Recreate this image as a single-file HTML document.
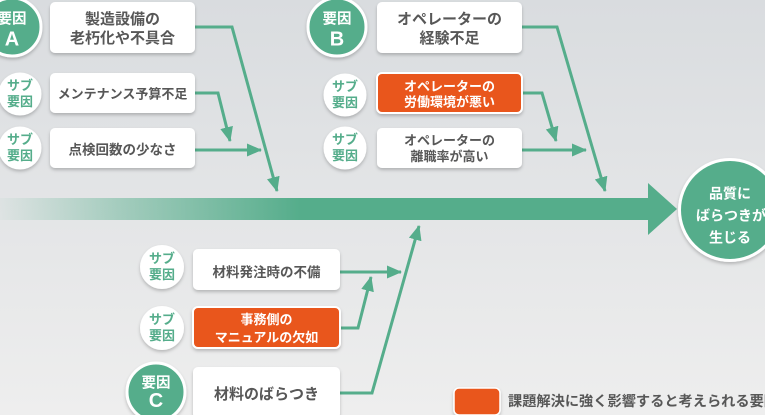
<!DOCTYPE html>
<html><head><meta charset="utf-8">
<style>
html,body{margin:0;padding:0;}
body{width:765px;height:415px;overflow:hidden;background:linear-gradient(#d9dcdf,#eeeeee);}
svg{display:block;font-family:"Liberation Sans","Noto Sans CJK JP",sans-serif;font-weight:bold;}
.g{fill:#575757;}
.w{fill:#fff;}
.gt{fill:#55ad8b;}
</style></head>
<body>
<svg width="765" height="415" viewBox="0 0 765 415" xmlns="http://www.w3.org/2000/svg">
<defs>
  <filter id="sh" x="-20%" y="-20%" width="140%" height="150%">
    <feDropShadow dx="0" dy="2" stdDeviation="1.5" flood-color="#000" flood-opacity="0.22"/>
  </filter>
  <linearGradient id="bar" gradientUnits="userSpaceOnUse" x1="0" y1="0" x2="300" y2="0">
    <stop offset="0" stop-color="#55ad8b" stop-opacity="0.04"/>
    <stop offset="0.4" stop-color="#55ad8b" stop-opacity="0.45"/>
    <stop offset="1" stop-color="#55ad8b" stop-opacity="1"/>
  </linearGradient>
  <marker id="ah" markerUnits="userSpaceOnUse" markerWidth="15" markerHeight="13" refX="14" refY="6.5" orient="auto" viewBox="0 0 15 13">
    <path d="M0,0 L15,6.5 L0,13 z" fill="#55ad8b"/>
  </marker>
</defs>

<!-- main arrow -->
<rect x="0" y="198" width="650" height="22" fill="url(#bar)"/>
<polygon points="648,183 677,209 648,235" fill="#55ad8b"/>

<!-- connectors -->
<g fill="none" stroke="#55ad8b" stroke-width="3" marker-end="url(#ah)">
  <polyline points="195,27 232,27 277,191"/>
  <polyline points="195,93 218,93 230,141"/>
  <polyline points="195,150 261,150"/>
  <polyline points="522,27 557,27 605,191"/>
  <polyline points="522,93 542,93 556,141"/>
  <polyline points="522,150 586,150"/>
  <polyline points="340,272 401,272"/>
  <polyline points="340,328 358,328 371,277"/>
  <polyline points="340,393 372,393 419,226"/>
</g>

<!-- Group A -->
<circle cx="12" cy="27" r="29" fill="#55ad8b" stroke="#fff" stroke-width="3" filter="url(#sh)"/>
<text x="12" y="23.5" text-anchor="middle" font-size="14.5" class="w">要因</text>
<text x="12" y="45.5" text-anchor="middle" font-size="20" class="w">A</text>
<rect x="50" y="2" width="145" height="51" rx="5" fill="#fff" filter="url(#sh)"/>
<text x="122.5" y="24" text-anchor="middle" font-size="15" class="g">製造設備の</text>
<text x="122.5" y="43" text-anchor="middle" font-size="15" class="g">老朽化や不具合</text>

<circle cx="20" cy="94" r="21.5" fill="#fff" filter="url(#sh)"/>
<text x="20" y="90" text-anchor="middle" font-size="13" class="gt">サブ</text>
<text x="20" y="106" text-anchor="middle" font-size="13" class="gt">要因</text>
<rect x="50" y="73" width="145" height="40" rx="5" fill="#fff" filter="url(#sh)"/>
<text x="122.5" y="98.5" text-anchor="middle" font-size="13" class="g">メンテナンス予算不足</text>

<circle cx="20" cy="148" r="21.5" fill="#fff" filter="url(#sh)"/>
<text x="20" y="144" text-anchor="middle" font-size="13" class="gt">サブ</text>
<text x="20" y="160" text-anchor="middle" font-size="13" class="gt">要因</text>
<rect x="50" y="128" width="145" height="40" rx="5" fill="#fff" filter="url(#sh)"/>
<text x="122.5" y="154.5" text-anchor="middle" font-size="13.5" class="g">点検回数の少なさ</text>

<!-- Group B -->
<circle cx="337" cy="27" r="29" fill="#55ad8b" stroke="#fff" stroke-width="3" filter="url(#sh)"/>
<text x="337" y="23.5" text-anchor="middle" font-size="14.5" class="w">要因</text>
<text x="337" y="45.5" text-anchor="middle" font-size="20" class="w">B</text>
<rect x="377" y="2" width="145" height="51" rx="5" fill="#fff" filter="url(#sh)"/>
<text x="449.5" y="24" text-anchor="middle" font-size="15" class="g">オペレーターの</text>
<text x="449.5" y="43" text-anchor="middle" font-size="15" class="g">経験不足</text>

<circle cx="345" cy="95" r="21.5" fill="#fff" filter="url(#sh)"/>
<text x="345" y="91" text-anchor="middle" font-size="13" class="gt">サブ</text>
<text x="345" y="107" text-anchor="middle" font-size="13" class="gt">要因</text>
<rect x="377" y="73" width="145" height="40" rx="5" fill="#e9561a" stroke="#fff" stroke-width="2" filter="url(#sh)"/>
<text x="449.5" y="91" text-anchor="middle" font-size="13" class="w">オペレーターの</text>
<text x="449.5" y="106.5" text-anchor="middle" font-size="13" class="w">労働環境が悪い</text>

<circle cx="345" cy="148" r="21.5" fill="#fff" filter="url(#sh)"/>
<text x="345" y="144" text-anchor="middle" font-size="13" class="gt">サブ</text>
<text x="345" y="160" text-anchor="middle" font-size="13" class="gt">要因</text>
<rect x="377" y="128" width="145" height="40" rx="5" fill="#fff" filter="url(#sh)"/>
<text x="449.5" y="145" text-anchor="middle" font-size="13" class="g">オペレーターの</text>
<text x="449.5" y="161" text-anchor="middle" font-size="13" class="g">離職率が高い</text>

<!-- Group C -->
<circle cx="162" cy="267" r="22" fill="#fff" filter="url(#sh)"/>
<text x="162" y="263" text-anchor="middle" font-size="13" class="gt">サブ</text>
<text x="162" y="279" text-anchor="middle" font-size="13" class="gt">要因</text>
<rect x="193" y="249" width="147" height="41" rx="5" fill="#fff" filter="url(#sh)"/>
<text x="266.5" y="277" text-anchor="middle" font-size="13.5" class="g">材料発注時の不備</text>

<circle cx="162" cy="328" r="22" fill="#fff" filter="url(#sh)"/>
<text x="162" y="324" text-anchor="middle" font-size="13" class="gt">サブ</text>
<text x="162" y="340" text-anchor="middle" font-size="13" class="gt">要因</text>
<rect x="193" y="307" width="147" height="41" rx="5" fill="#e9561a" stroke="#fff" stroke-width="2" filter="url(#sh)"/>
<text x="266.5" y="324" text-anchor="middle" font-size="13" class="w">事務側の</text>
<text x="266.5" y="342" text-anchor="middle" font-size="13" class="w">マニュアルの欠如</text>

<circle cx="156" cy="392" r="29" fill="#55ad8b" stroke="#fff" stroke-width="3" filter="url(#sh)"/>
<text x="156" y="387.5" text-anchor="middle" font-size="14.5" class="w">要因</text>
<text x="156" y="407" text-anchor="middle" font-size="20" class="w">C</text>
<rect x="193" y="367" width="147" height="52" rx="5" fill="#fff" filter="url(#sh)"/>
<text x="266.5" y="399" text-anchor="middle" font-size="15" class="g">材料のばらつき</text>

<!-- Result -->
<circle cx="730" cy="210" r="50.5" fill="#55ad8b" stroke="#fff" stroke-width="3" filter="url(#sh)"/>
<text x="730" y="198.5" text-anchor="middle" font-size="14" class="w">品質に</text>
<text x="731" y="220.5" text-anchor="middle" font-size="14" class="w">ばらつきが</text>
<text x="730" y="242.5" text-anchor="middle" font-size="14" class="w">生じる</text>

<!-- Legend -->
<rect x="454" y="388" width="46" height="27" rx="5" fill="#e9561a" stroke="#fff" stroke-width="1.5" filter="url(#sh)"/>
<text x="508" y="406" font-size="14.2" class="g" textLength="270" lengthAdjust="spacing">課題解決に強く影響すると考えられる要因</text>
</svg>
</body></html>
